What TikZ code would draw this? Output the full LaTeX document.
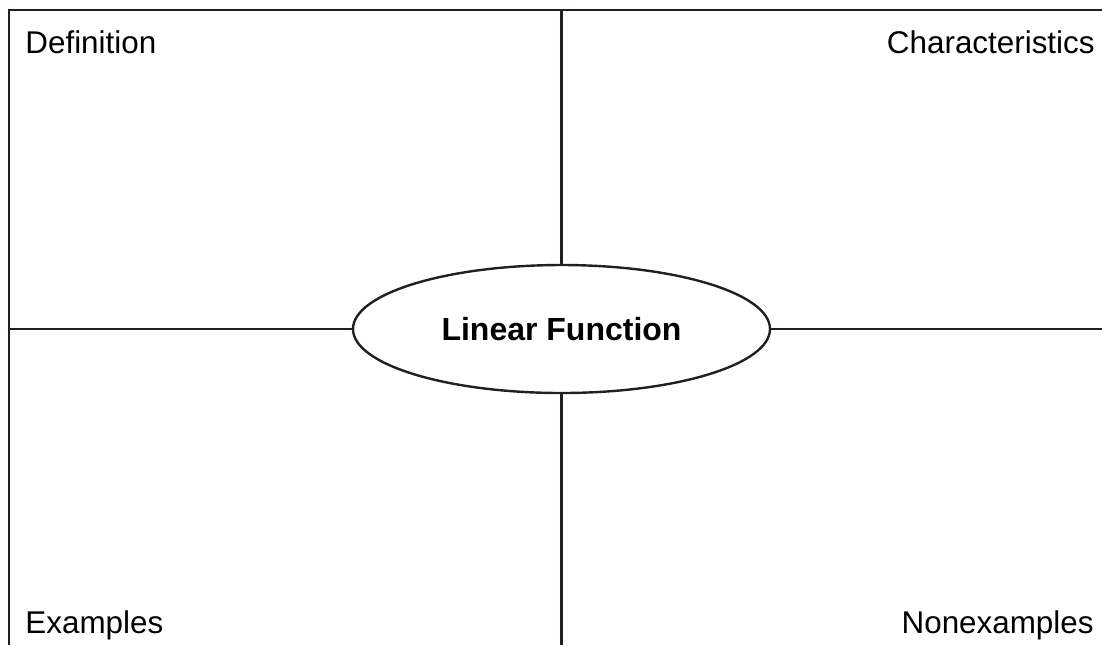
\documentclass[tikz,border=0pt]{standalone}
\usepackage{fontspec}
\setmainfont{Liberation Sans}
\usepackage{tikz}
\usetikzlibrary{shapes.geometric}
\definecolor{frameInk}{HTML}{231F20}

\begin{document}
\begin{tikzpicture}[x=0.5pt, y=-0.5pt, font=\fontsize{15.7}{18}\selectfont,
    frameline/.style={draw=frameInk, line width=1.2pt},
    cornerlabel/.style={inner sep=0pt, text=black}]
    \useasboundingbox (0,0) rectangle (1102,645);
    % outer frame corners and ends of the cross
    \coordinate (topleft) at (9,10);
    \coordinate (topright) at (1102,10);
    \coordinate (bottomleft) at (9,645);
    \coordinate (midtop) at (561.5,10);
    \coordinate (midbottom) at (561.5,645);
    \coordinate (midleft) at (9,329);
    \coordinate (midright) at (1102,329);
    \node[ellipse, frameline, minimum width=208.5pt, minimum height=64pt,
          inner sep=0pt, font=\fontsize{16}{19}\selectfont\bfseries]
      (topic) at (561.5,329) {Linear Function};
    \draw[frameline] (bottomleft) -- (topleft) -- (topright);
    \draw[frameline] (midtop) -- (topic.north);
    \draw[frameline] (topic.south) -- (midbottom);
    \draw[frameline] (midleft) -- (topic.west);
    \draw[frameline] (topic.east) -- (midright);
    \node[cornerlabel, anchor=base west] (definition) at (25,53) {Definition};
    \node[cornerlabel, anchor=base east] (characteristics) at (1095,53) {Characteristics};
    \node[cornerlabel, anchor=base west] (examples) at (25,633) {Examples};
    \node[cornerlabel, anchor=base east] (nonexamples) at (1094,633) {Nonexamples};
  \end{tikzpicture}
\end{document}
